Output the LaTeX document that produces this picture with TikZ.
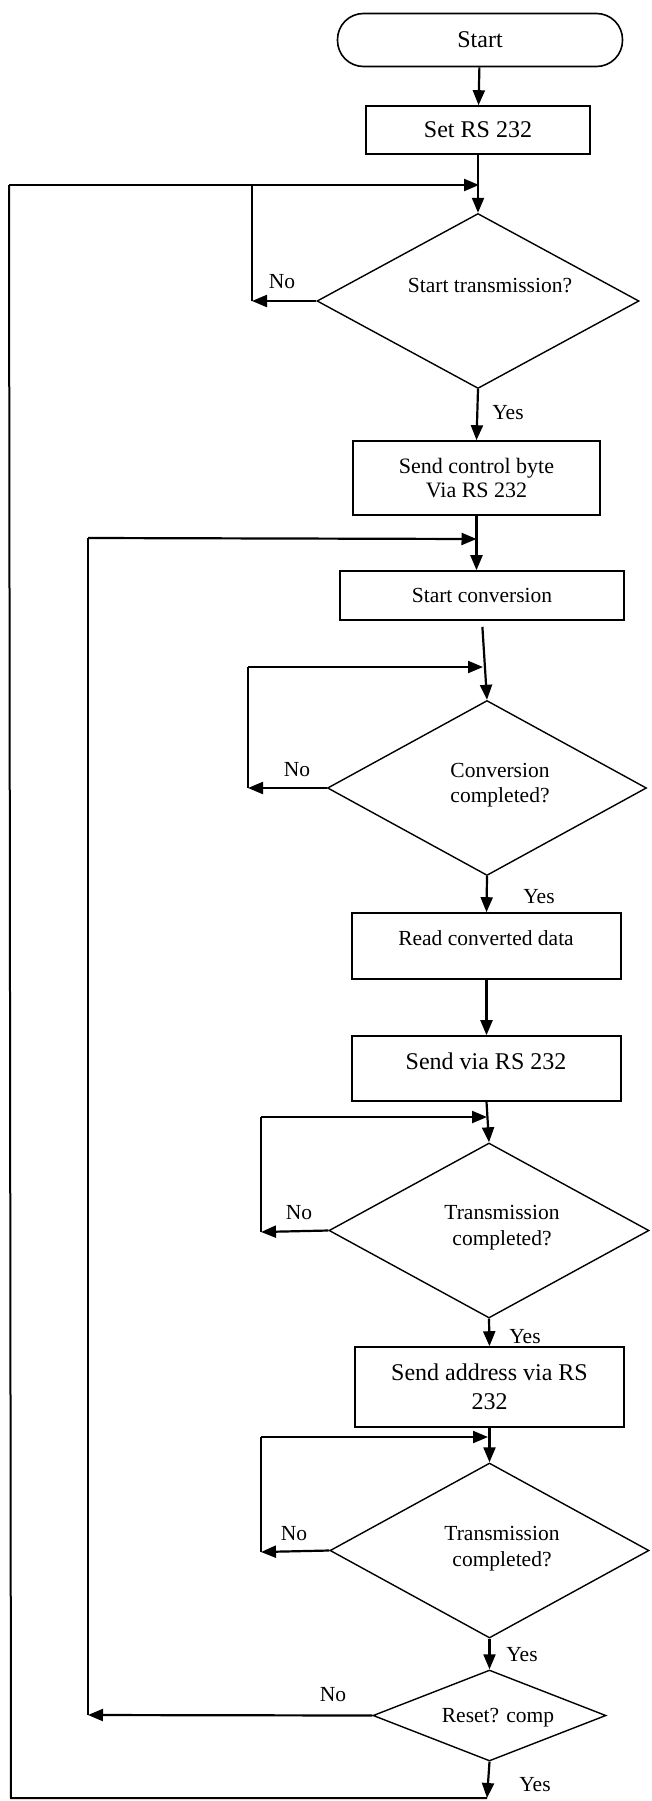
\documentclass[tikz,border=0pt]{standalone}
\usepackage{fontspec}
\setmainfont{Liberation Serif}
\usetikzlibrary{shapes.geometric,arrows.meta}
\newcommand{\smalltxt}{\fontsize{21.5}{25}\selectfont}
\newcommand{\bigtxt}{\fontsize{24}{29}\selectfont}
\begin{document}
\begin{tikzpicture}[x=1pt,y=-1pt,
    term/.style={draw,line width=1.6pt,rounded corners=26pt,minimum width=285pt,minimum height=53pt,inner sep=0pt,font=\bigtxt},
    procbox/.style={draw,line width=1.6pt,inner sep=0pt,align=center},
    decision/.style={draw,diamond,line width=1.4pt,inner sep=0pt},
    arr/.style={line width=2.2pt,-{Triangle[length=15pt,width=12pt]}},
    wire/.style={line width=2pt},
    lbl/.style={font=\smalltxt,inner sep=0pt,align=center}]
    \useasboundingbox (0,0) rectangle (651,1801);
    % blocks
    \node[term](start)at(480,40){Start};
    \node[procbox,minimum width=224pt,minimum height=48pt,font=\bigtxt](setrs)at(478,130){Set RS 232};
    \node[decision,minimum width=322pt,minimum height=175pt](d1)at(478,301){};
    \node[lbl](d1txt)at(490,286){Start transmission?};
    \node[procbox,minimum width=247pt,minimum height=74pt,font=\fontsize{22}{24}\selectfont](ctrl)at(476.5,478){Send control byte\\Via RS 232};
    \node[procbox,minimum width=284pt,minimum height=49pt,font=\smalltxt](conv)at(482,595.5){Start conversion};
    \node[decision,minimum width=319pt,minimum height=175pt](d2)at(487,788){};
    \node[lbl](d2txt)at(500,785){Conversion\\completed?};
    \node[procbox,minimum width=269pt,minimum height=66pt](read)at(486.5,946){};
    \node[lbl](readtxt)at(486,938){Read converted data};
    \node[procbox,minimum width=269pt,minimum height=65pt](sendrs)at(486.5,1068.5){};
    \node[lbl,font=\bigtxt](sendrstxt)at(486,1061){Send via RS 232};
    \node[decision,minimum width=320pt,minimum height=175pt](d3)at(489,1230.5){};
    \node[lbl,font=\fontsize{21.5}{26}\selectfont](d3txt)at(502,1228){Transmission\\completed?};
    \node[procbox,minimum width=269pt,minimum height=80pt,font=\bigtxt](addr)at(489.5,1387){Send address via RS\\232};
    \node[decision,minimum width=319pt,minimum height=175pt](d4)at(489.5,1550.5){};
    \node[lbl,font=\fontsize{21.5}{26}\selectfont](d4txt)at(502,1549){Transmission\\completed?};
    \node[decision,minimum width=233pt,minimum height=91pt](reset)at(489.5,1715.5){};
    \node[lbl](resettxt)at(498,1718){Reset? comp};
    % junctions and corners
    \coordinate(j1)at(479,185);
    \coordinate(top1)at(9,185);
    \coordinate(bot1)at(11,1798);
    \coordinate(bot2)at(487,1798);
    \coordinate(n1)at(252,301);
    \coordinate(n1t)at(252,185);
    \coordinate(j2)at(476.5,539);
    \coordinate(j2l)at(88,538);
    \coordinate(rno)at(88,1715);
    \coordinate(n2)at(248,788);
    \coordinate(n2t)at(248,667);
    \coordinate(j3)at(483,667);
    \coordinate(n3)at(261,1232);
    \coordinate(n3t)at(261,1117);
    \coordinate(j4)at(487,1117);
    \coordinate(n4)at(261,1552);
    \coordinate(n4t)at(261,1437);
    \coordinate(j5)at(488,1437);
    % main flow
    \draw[arr](start)--(setrs);
    \draw[arr](setrs.south)--(d1.north);
    \draw[arr](d1.south)--(ctrl.north);
    \draw[arr](ctrl.south)--(ctrl.south|-conv.north);
    \draw[arr,shorten <=6pt](conv.south)--(d2.north);
    \draw[arr](d2.south)--(read.north);
    \draw[arr](read.south)--(sendrs.north);
    \draw[arr](sendrs.south)--(d3.north);
    \draw[arr](d3.south)--(addr.north);
    \draw[arr](addr.south)--(d4.north);
    \draw[arr](d4.south)--(reset.north);
    \draw[arr](reset.south)--(bot2);
    % loops
    \draw[wire](bot2)--(bot1)--(top1);
    \draw[arr](top1)--(j1);
    \draw[arr](d1.west)--(n1);
    \draw[wire](n1)--(n1t);
    \draw[arr](reset.west)--(rno);
    \draw[wire](rno)--(j2l);
    \draw[arr](j2l)--(j2);
    \draw[arr](d2.west)--(n2);
    \draw[wire](n2)--(n2t);
    \draw[arr](n2t)--(j3);
    \draw[arr](d3.west)--(n3);
    \draw[wire](n3)--(n3t);
    \draw[arr](n3t)--(j4);
    \draw[arr](d4.west)--(n4);
    \draw[wire](n4)--(n4t);
    \draw[arr](n4t)--(j5);
    % labels
    \node[lbl](yes1)at(508,413){Yes};
    \node[lbl](yes2)at(539,897){Yes};
    \node[lbl](yes3)at(525,1337){Yes};
    \node[lbl](yes4)at(522,1655){Yes};
    \node[lbl](yes5)at(535,1785){Yes};
    \node[lbl](no1)at(282,282){No};
    \node[lbl](no2)at(297,770){No};
    \node[lbl](no3)at(299,1213){No};
    \node[lbl](no4)at(294,1534){No};
    \node[lbl](no5)at(333,1695){No};
\end{tikzpicture}
\end{document}
